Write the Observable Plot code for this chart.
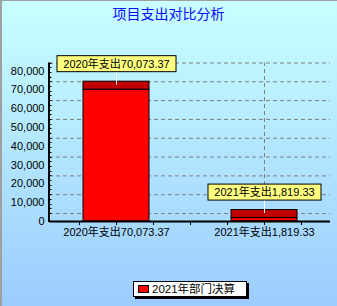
<!DOCTYPE html>
<html><head><meta charset="utf-8">
<script src="https://cdn.jsdelivr.net/npm/d3@7"></script>
<script src="https://cdn.jsdelivr.net/npm/@observablehq/plot@0.6"></script>
<style>
html,body{margin:0;padding:0;background:#fff;}
#wrap{position:relative;width:337px;height:306px;overflow:hidden;
  background:linear-gradient(#C8FFFF,#9CCCFF);
  font-family:"Liberation Sans",Arial,"Noto Sans CJK SC",sans-serif;}
#bl{position:absolute;left:0;top:0;width:2px;height:306px;background:#A0A0A0;}
#bt{position:absolute;left:0;top:0;width:337px;height:1px;background:#A0A0A0;}
#title{position:absolute;left:0;top:5px;width:337px;text-align:center;font-size:14px;line-height:18px;color:#0a0aff;}
#chart{position:absolute;left:0;top:0;}
#legend{position:absolute;left:133px;top:281px;width:114px;height:16px;box-sizing:border-box;
  background:#fff;border:1px solid #000;box-shadow:2px 2px 0 #000;}
#legend .sw{position:absolute;left:4px;top:3px;width:11px;height:8px;box-sizing:border-box;border:1px solid #000;}
#legend .tx{position:absolute;left:18px;top:0;font-size:11.5px;line-height:14px;color:#000;white-space:nowrap;}
</style></head>
<body>
<div id="wrap">
  <div id="bl"></div><div id="bt"></div>
  <div id="chart"></div>
  <div id="title"></div>
  <div id="legend"><div class="sw"></div><div class="tx"></div></div>
</div>
<script>
const chartTitle = "项目支出对比分析";
const categories = ["2020年支出70,073.37", "2021年支出1,819.33"];
const values = [70073.37, 1819.33];
const labels = ["2020年支出70,073.37", "2021年支出1,819.33"];
const seriesName = "2021年部门决算";
const seriesColor = "#FF0000";
const yTicks = [0, 10000, 20000, 30000, 40000, 50000, 60000, 70000, 80000];

const data = categories.map((c, i) => ({cat: c, value: values[i], label: labels[i]}));
const depth = 8;
const font = '"Liberation Sans",Arial,"Noto Sans CJK SC",sans-serif';

document.getElementById("title").textContent = chartTitle;
document.querySelector("#legend .tx").textContent = seriesName;
document.querySelector("#legend .sw").style.background = seriesColor;

const plot = Plot.plot({
  width: 337, height: 306,
  marginLeft: 49, marginRight: 7, marginTop: 70.5, marginBottom: 85,
  style: {background: "transparent", fontFamily: font, fontSize: "11px", color: "#000", overflow: "visible"},
  x: {domain: categories, paddingInner: 0.557, paddingOuter: 0.2215, align: 0.5, label: null},
  y: {domain: [0, yTicks[yTicks.length - 1]], label: null},
  marks: [
    Plot.gridY(yTicks, {dy: -depth, stroke: "#808080", strokeOpacity: 1, strokeDasharray: "4,3"}),
    Plot.ruleX(categories, {x: d => d, y1: 0, y2: yTicks[yTicks.length - 1], dy: -depth, stroke: "#808080", strokeDasharray: "4,3"}),
    Plot.barY(data, {x: "cat", y: "value", fill: seriesColor, stroke: "#000", strokeWidth: 1}),
    Plot.barY(data, {x: "cat", y1: "value", y2: "value", insetTop: -depth, fill: "#C00000", stroke: "#000", strokeWidth: 1}),
    Plot.ruleY([0], {stroke: "#000", strokeWidth: 2}),
    Plot.axisY(yTicks, {tickSize: 0, tickPadding: 5, tickFormat: d3.format(","), fontSize: 11, label: null}),
    Plot.axisX({tickSize: 0, tickPadding: 7, fontSize: 11, label: null}),
    Plot.ruleX(data, {x: "cat", y1: "value", y2: "value", insetTop: -18, insetBottom: 4.5, stroke: "#fff", strokeWidth: 1}),
    Plot.text(data, {x: "cat", y: "value", text: "label", dy: -25.5, fill: "#000", fontSize: 11})
  ]
});
document.getElementById("chart").appendChild(plot);

// yellow boxes behind the data labels (last mark group)
const groups = Array.from(plot.children).filter(n => n.tagName.toLowerCase() === "g");
const labelGroup = groups[groups.length - 1];
labelGroup.querySelectorAll("text").forEach(t => {
  const b = t.getBBox();
  const padX = 6.5, padY = 1.5;
  const r = document.createElementNS("http://www.w3.org/2000/svg", "rect");
  r.setAttribute("x", Math.round(b.x - padX) + 0.5);
  r.setAttribute("y", Math.round(b.y - padY) + 0.5);
  r.setAttribute("width", Math.round(b.width + 2 * padX));
  r.setAttribute("height", Math.round(b.height + 2 * padY));
  r.setAttribute("fill", "#FFFF80");
  r.setAttribute("stroke", "#000");
  const tr = t.getAttribute("transform");
  if (tr) r.setAttribute("transform", tr);
  t.parentNode.insertBefore(r, t);
});

// axis line and minor ticks
const ys = plot.scale("y"), xs = plot.scale("x");
const g = d3.select(plot).append("g");
const x0 = 49;
g.append("line").attr("x1", x0).attr("x2", x0)
  .attr("y1", ys.apply(yTicks[yTicks.length - 1]) - depth).attr("y2", ys.apply(0) + 1)
  .attr("stroke", "#000").attr("stroke-width", 2);
const minorY = d3.range(0, yTicks[yTicks.length - 1] + 1, 2500);
g.selectAll(".my").data(minorY).join("line")
  .attr("x1", x0).attr("x2", x0 + 2.5)
  .attr("y1", d => Math.round(ys.apply(d) - depth) + 0.5).attr("y2", d => Math.round(ys.apply(d) - depth) + 0.5)
  .attr("stroke", "#000");
const step = xs.step, bw = xs.bandwidth;
const c0 = xs.apply(categories[0]) + bw / 2, c1 = xs.apply(categories[categories.length - 1]) + bw / 2;
const minorX = d3.range(c0 - step / 4, c1 + step / 4 + 1, step / 4);
const yb = ys.apply(0);
g.selectAll(".mx").data(minorX).join("line")
  .attr("x1", d => Math.round(d) + 0.5).attr("x2", d => Math.round(d) + 0.5)
  .attr("y1", yb + 1).attr("y2", yb + 4)
  .attr("stroke", "#000");
</script>
</body></html>
